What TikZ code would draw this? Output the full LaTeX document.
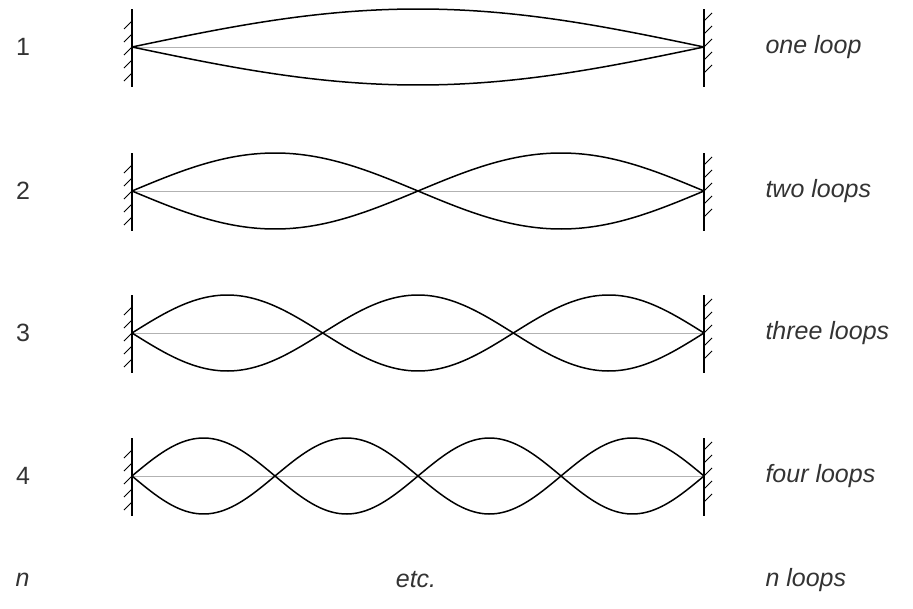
\documentclass[tikz,border=0pt]{standalone}
\usepackage{fontspec}
\setmainfont{Liberation Sans}
\usetikzlibrary{positioning}

\tikzset{
  wire/.style={gray!60,line width=0.7pt},
  loopline/.style={line width=1.5pt},
  wall/.style={line width=1.3pt},
  hatch/.style={line width=0.8pt},
  numlabel/.style={font=\fontsize{25}{30}\selectfont,text=black!80},
  wordlabel/.style={font=\fontsize{25}{30}\selectfont\itshape,text=black!80,anchor=west},
}

\begin{document}
\begin{tikzpicture}[x=1pt,y=-1pt]
  \useasboundingbox (0,0) rectangle (913,608);
  % one row per mode
  \foreach \n/\ypos/\word in {1/47/one loop,2/191/two loops,3/333/three loops,4/476/four loops}{
    \begin{scope}[yshift=-\ypos pt]
      \draw[wire] (132,0) -- (704,0);
      \draw[loopline] plot[domain=0:572,samples=150] ({132+\x},{-38*sin(\x/572*180*\n)});
      \draw[loopline] plot[domain=0:572,samples=150] ({132+\x},{38*sin(\x/572*180*\n)});
      % walls
      \draw[wall] (132,-38) -- (132,40);
      \draw[wall] (704,-38) -- (704,40);
      \foreach \h in {-26,-13,0,13,26}{
        \draw[hatch] (132,\h) -- ++(-8,8);
        \draw[hatch] (704,\h) -- ++(8,-8);
      }
      \node[numlabel] (num\n) at (23,0) {\n};
      \node[wordlabel] (word\n) at (762,0) {\word};
    \end{scope}
  }
  % last row
  \node[wordlabel] (numN) at (12,580) {n};
  \node[wordlabel,anchor=center] (etc) at (416,580) {etc.};
  \node[wordlabel] (wordN) at (762,580) {n loops};
\end{tikzpicture}
\end{document}
